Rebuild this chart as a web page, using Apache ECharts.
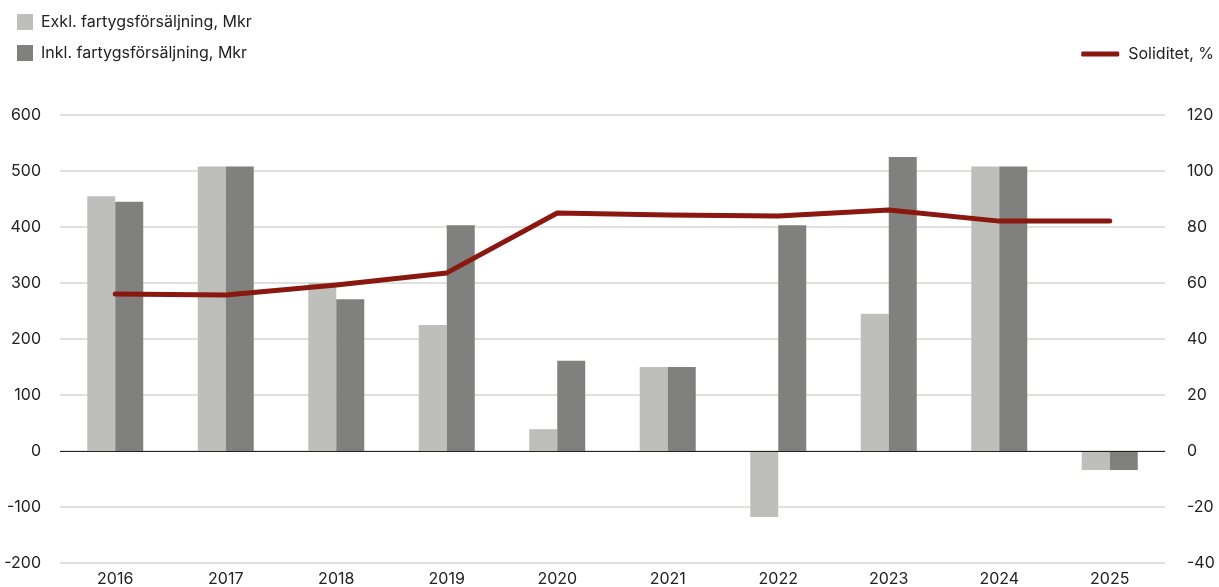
<!DOCTYPE html>
<html><head><meta charset="utf-8">
<script src="https://cdn.jsdelivr.net/npm/echarts@6/dist/echarts.min.js"></script>
<style>html,body{margin:0;padding:0;background:#fff}#c{width:1219px;height:587px}</style>
</head><body><div id="c"></div>
<script>
const categories = ['2016','2017','2018','2019','2020','2021','2022','2023','2024','2025'];
const exkl = [455, 508, 300, 225, 39, 150, -118, 245, 508, -34];
const inkl = [445, 508, 271, 403, 161, 150, 403, 525, 508, -34];
const soliditet = [56.1, 55.7, 59.3, 63.6, 85.0, 84.3, 83.9, 86.1, 82.1, 82.1];
const leftTicks = [-200, 600, 100];
const rightTicks = [-40, 120, 20];

const font = 'Inter, "Liberation Sans", sans-serif';
const chart = echarts.init(document.getElementById('c'));
chart.setOption({
  animation: false,
  textStyle: {fontFamily: font},
  legend: [
    {left: 12, top: 9, orient: 'vertical', itemGap: 15, itemWidth: 16, itemHeight: 16,
     icon: 'rect', textStyle: {fontSize: 16, color: '#222', fontFamily: font, padding: [0,0,0,3]},
     data: ['Exkl. fartygsförsäljning, Mkr', 'Inkl. fartygsförsäljning, Mkr']},
    {right: 0, top: 41, itemWidth: 38, itemHeight: 5,
     textStyle: {fontSize: 16, color: '#222', fontFamily: font, padding: [0,0,0,4]},
     data: [{name: 'Soliditet, %', icon: 'roundRect'}]}
  ],
  grid: {left: 60, right: 54, top: 115, bottom: 24, containLabel: false, outerBoundsMode: 'none'},
  xAxis: {type: 'category', data: categories,
    axisLine: {show: false}, axisTick: {show: false},
    axisLabel: {fontSize: 16, color: '#222', margin: 8, fontFamily: font}},
  yAxis: [
    {type: 'value', min: leftTicks[0], max: leftTicks[1], interval: leftTicks[2],
     axisLine: {show: false}, axisTick: {show: false},
     axisLabel: {fontSize: 16, color: '#222', margin: 19, fontFamily: font},
     splitLine: {lineStyle: {color: '#d6d6d2', width: 1.5}}},
    {type: 'value', min: rightTicks[0], max: rightTicks[1], interval: rightTicks[2],
     axisLine: {show: false}, axisTick: {show: false},
     axisLabel: {fontSize: 16, color: '#222', margin: 22, fontFamily: font},
     splitLine: {show: false}}
  ],
  series: [
    {name: 'Exkl. fartygsförsäljning, Mkr', type: 'bar', data: exkl, barWidth: 28, barGap: '0%',
     itemStyle: {color: '#bebebb'},
     markLine: {silent: true, symbol: 'none', label: {show: false},
       lineStyle: {color: '#222', width: 1.2, type: 'solid'}, data: [{yAxis: 0}]}},
    {name: 'Inkl. fartygsförsäljning, Mkr', type: 'bar', data: inkl, barWidth: 28, barGap: '0%',
     itemStyle: {color: '#80817e'}},
    {name: 'Soliditet, %', type: 'line', yAxisIndex: 1, data: soliditet, symbol: 'none',
     lineStyle: {color: '#8a1710', width: 5, cap: 'round', join: 'round'}, itemStyle: {color: '#8a1710'}, z: 5}
  ]
});
</script></body></html>
